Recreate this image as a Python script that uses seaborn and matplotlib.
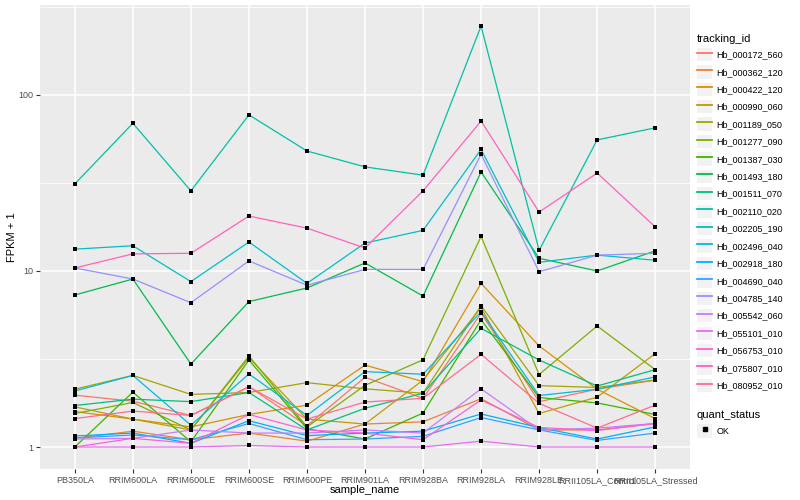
import matplotlib
matplotlib.use("Agg")
from matplotlib import pyplot as plt
from matplotlib.lines import Line2D
from matplotlib.patches import Rectangle
from matplotlib.legend_handler import HandlerTuple
import matplotlib.ticker as mtick
import pandas as pd
import seaborn as sns

samples = ["PB350LA", "RRIM600LA", "RRIM600LE", "RRIM600SE", "RRIM600PE", "RRIM901LA",
           "RRIM928BA", "RRIM928LA", "RRIM928LE", "RRII105LA_Control", "RRII105LA_Stressed"]

tracking_ids = ["Hb_000172_560", "Hb_000362_120", "Hb_000422_120", "Hb_000990_060",
                "Hb_001189_050", "Hb_001277_090", "Hb_001387_030", "Hb_001493_180",
                "Hb_001511_070", "Hb_002110_020", "Hb_002205_190", "Hb_002496_040",
                "Hb_002918_180", "Hb_004690_040", "Hb_004785_140", "Hb_005542_060",
                "Hb_055101_010", "Hb_056753_010", "Hb_075807_010", "Hb_080952_010"]

# FPKM + 1, one list per gene, in sample order
fpkm = {
    "Hb_000172_560": [1.97, 1.82, 1.51, 2.20, 1.32, 2.49, 1.89, 5.75, 1.81, 2.13, 2.40],
    "Hb_000362_120": [1.12, 1.23, 1.10, 1.20, 1.08, 1.35, 1.39, 1.88, 1.25, 1.25, 1.36],
    "Hb_000422_120": [1.59, 1.44, 1.30, 1.53, 1.73, 2.92, 2.35, 8.50, 3.75, 2.13, 1.45],
    "Hb_000990_060": [1.69, 1.44, 1.25, 3.22, 1.44, 1.35, 2.40, 6.20, 1.55, 1.92, 3.39],
    "Hb_001189_050": [2.13, 2.55, 1.99, 2.04, 2.32, 2.14, 2.02, 6.35, 2.23, 2.18, 2.40],
    "Hb_001277_090": [1.55, 1.79, 1.25, 3.29, 1.30, 2.24, 3.13, 15.7, 2.58, 4.87, 2.75],
    "Hb_001387_030": [1.00, 2.05, 1.07, 3.12, 1.27, 1.11, 1.56, 5.28, 1.91, 1.78, 1.53],
    "Hb_001493_180": [7.3, 9.0, 2.96, 6.7, 8.0, 11.1, 7.2, 36.5, 11.8, 10.0, 13.0],
    "Hb_001511_070": [1.72, 1.87, 1.81, 2.04, 1.25, 1.66, 2.02, 4.72, 3.12, 2.22, 2.75],
    "Hb_002110_020": [31.2, 69.0, 28.5, 77.0, 48.0, 39.0, 35.0, 246.0, 13.1, 55.5, 65.0],
    "Hb_002205_190": [13.3, 13.9, 8.7, 14.6, 8.5, 14.4, 17.0, 49.0, 11.2, 12.3, 11.5],
    "Hb_002496_040": [2.08, 2.55, 1.33, 2.60, 1.51, 2.68, 2.59, 5.87, 1.96, 2.13, 2.50],
    "Hb_002918_180": [1.155, 1.20, 1.05, 1.41, 1.16, 1.20, 1.23, 1.54, 1.29, 1.11, 1.30],
    "Hb_004690_040": [1.125, 1.17, 1.10, 1.36, 1.10, 1.11, 1.15, 1.47, 1.25, 1.09, 1.20],
    "Hb_004785_140": [10.4, 9.0, 6.6, 11.4, 8.3, 10.2, 10.2, 46.0, 9.9, 12.3, 12.6],
    "Hb_005542_060": [1.11, 1.12, 1.25, 1.20, 1.20, 1.25, 1.20, 2.14, 1.25, 1.28, 1.36],
    "Hb_055101_010": [1.00, 1.00, 1.00, 1.02, 1.00, 1.00, 1.00, 1.08, 1.00, 1.00, 1.00],
    "Hb_056753_010": [1.00, 1.12, 1.05, 1.53, 1.25, 1.20, 1.10, 1.85, 1.29, 1.24, 1.36],
    "Hb_075807_010": [10.4, 12.5, 12.6, 20.5, 17.5, 13.5, 28.5, 71.0, 21.6, 36.0, 17.8],
    "Hb_080952_010": [1.45, 1.60, 1.51, 2.20, 1.44, 1.80, 1.89, 3.36, 1.77, 1.28, 1.73],
}

colors = ["#F8766D", "#EA8331", "#D89000", "#C09B00", "#A3A500", "#7CAE00", "#39B600",
          "#00BB4E", "#00BF7D", "#00C1A3", "#00BFC4", "#00BAE0", "#00B0F6", "#35A2FF",
          "#9590FF", "#C77CFF", "#E76BF3", "#FA62DB", "#FF62BC", "#FF6C91"]

rows = []
for tid in tracking_ids:
    for s, v in zip(samples, fpkm[tid]):
        rows.append({"tracking_id": tid, "sample_name": s, "fpkm": v, "quant_status": "OK"})
df = pd.DataFrame(rows)

plt.rcParams["font.family"] = ["Liberation Sans", "DejaVu Sans"]

fig = plt.figure(figsize=(8, 5), dpi=100)
ax = fig.add_axes([40 / 800, 31 / 500, 650 / 800, 464 / 500])
ax.set_facecolor("#EBEBEB")

sns.lineplot(data=df, x="sample_name", y="fpkm", hue="tracking_id", hue_order=tracking_ids,
             palette=colors, sort=False, errorbar=None, legend=False, linewidth=0.9, ax=ax)
sns.scatterplot(data=df, x="sample_name", y="fpkm", color="black", marker="s", s=7,
                linewidth=0, legend=False, ax=ax, zorder=5)

ax.set_yscale("log")
ax.set_ylim(0.75, 324)
ax.set_xlim(-0.6, len(samples) - 0.4)
ax.yaxis.set_major_locator(mtick.FixedLocator([1, 10, 100]))
ax.yaxis.set_major_formatter(mtick.FixedFormatter(["1", "10", "100"]))
ax.yaxis.set_minor_locator(mtick.FixedLocator([10 ** 0.5, 10 ** 1.5, 10 ** 2.5]))
ax.yaxis.set_minor_formatter(mtick.NullFormatter())
ax.tick_params(axis="y", which="minor", length=0)
ax.tick_params(which="major", length=3, width=0.8, color="#333333", labelcolor="#4D4D4D",
               labelsize=6.5, pad=2)
ax.grid(which="major", color="white", linewidth=1.1)
ax.grid(which="minor", axis="y", color="white", linewidth=0.55)
ax.set_axisbelow(True)
for sp in ax.spines.values():
    sp.set_visible(False)
ax.set_xlabel("sample_name", fontsize=8, labelpad=0)
ax.set_ylabel("FPKM + 1", fontsize=8, labelpad=1)

# legends, ggplot style
key_bg = dict(facecolor="#F2F2F2", edgecolor="none")
handles = [(Rectangle((0, 0), 1, 1, **key_bg), Line2D([], [], color=c, lw=1.3)) for c in colors]
leg1 = ax.legend(handles, tracking_ids, title="tracking_id", loc="upper left",
                 bbox_to_anchor=(1.005, 0.946), frameon=False, fontsize=6.5, title_fontsize=8,
                 handler_map={tuple: HandlerTuple(ndivide=1)}, handlelength=1.7,
                 handleheight=1.9, handletextpad=0.5, labelspacing=0.45, borderaxespad=0)
leg1._legend_box.align = "left"
ax.add_artist(leg1)
h2 = [(Rectangle((0, 0), 1, 1, **key_bg),
       Line2D([], [], color="black", marker="s", markersize=2.5, lw=0))]
leg2 = ax.legend(h2, ["OK"], title="quant_status", loc="upper left",
                 bbox_to_anchor=(1.005, 0.135), frameon=False, fontsize=6.5, title_fontsize=8,
                 handler_map={tuple: HandlerTuple(ndivide=1)}, handlelength=1.7,
                 handleheight=1.9, handletextpad=0.5, borderaxespad=0)
leg2._legend_box.align = "left"

fig.savefig("out.png", dpi=100)
